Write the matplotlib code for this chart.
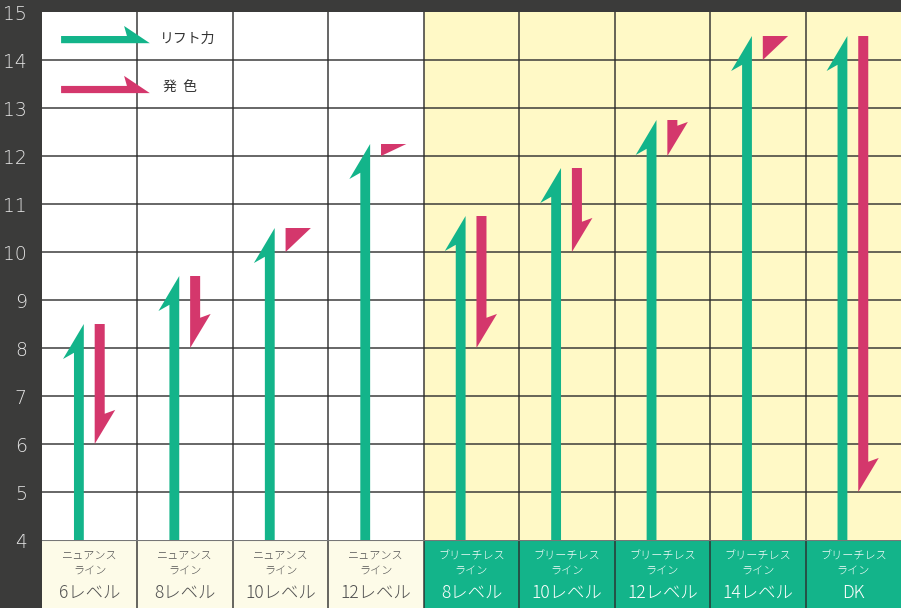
import matplotlib.pyplot as plt
from matplotlib.patches import Polygon, Rectangle

plt.rcParams['font.family'] = ['Noto Sans CJK JP', 'DejaVu Sans']

# data
series = ["ニュアンス"] * 4 + ["ブリーチレス"] * 5
line_word = ["ライン"] * 9
levels = ["6レベル", "8レベル", "10レベル", "12レベル",
          "8レベル", "10レベル", "12レベル", "14レベル", "DK"]
lift = [8.5, 9.5, 10.5, 12.25, 10.75, 11.75, 12.75, 14.5, 14.5]
color_end = [6, 8, 10, 12, 8, 10, 12, 14, 5]
bleach = [False] * 4 + [True] * 5
yticks = list(range(4, 16))
legend_labels = ["リフト力", "発  色"]

GREEN = '#13b48a'
PINK = '#d4376c'
YELLOW = '#fff9c6'
CREAM = '#fdfbe8'
BG = '#3b3b3a'
GRID = '#2c2c2c'


def up_arrow(ax, c, base, top):
    l, r = c - 0.165, c - 0.062
    pts = [(l, base), (r, base), (r, top), (l - 0.115, top - 0.73), (l, top - 0.6)]
    ax.add_patch(Polygon(pts, closed=True, fc=GREEN, ec='none', zorder=3))


def down_arrow(ax, c, top, tip):
    l, r = c + 0.052, c + 0.157
    if top - tip > 0.72:
        pts = [(l, top), (r, top), (r, tip + 0.63), (l + 0.215, tip + 0.71), (l, tip)]
    else:
        pts = [(l, top), (l + 0.265, top), (l, tip)]
    ax.add_patch(Polygon(pts, closed=True, fc=PINK, ec='none', zorder=3))


def side_arrow(ax, x0, tip, yb, color):
    pts = [(x0, yb), (tip, yb), (tip - 0.27, yb + 0.36),
           (tip - 0.24, yb + 0.15), (x0, yb + 0.15)]
    ax.add_patch(Polygon(pts, closed=True, fc=color, ec='none', zorder=3))


fig = plt.figure(figsize=(9.01, 6.08), dpi=100)
fig.patch.set_facecolor(BG)

ax = fig.add_axes([42 / 901, 68 / 608, 859 / 901, 528 / 608])
ax.set_xlim(0, 9)
ax.set_ylim(4, 15)
for i, b in enumerate(bleach):
    ax.axvspan(i, i + 1, color=YELLOW if b else 'white', zorder=0, lw=0)
for y in yticks[1:-1]:
    ax.axhline(y, color=GRID, lw=1.3, alpha=0.78, zorder=1)
for i in range(1, len(levels)):
    ax.axvline(i, color=GRID, lw=1.2, alpha=0.85, zorder=1)

for i in range(len(levels)):
    c = i + 0.5
    up_arrow(ax, c, 4, lift[i])
    down_arrow(ax, c, lift[i], color_end[i])

# legend
side_arrow(ax, 0.2, 1.13, 14.35, GREEN)
side_arrow(ax, 0.2, 1.13, 13.31, PINK)
ax.text(1.24, 14.45, legend_labels[0], fontsize=10, color='#333333', va='center', zorder=4)
ax.text(1.27, 13.43, legend_labels[1], fontsize=10, color='#333333', va='center', zorder=4)

ax.set_yticks(yticks)
ax.set_yticklabels([str(v) for v in yticks], color='#e6e6e6', fontsize=13.5,
                   fontfamily='DejaVu Sans', fontweight='light')
ax.tick_params(axis='y', length=0, pad=11)
ax.set_xticks([])
for s in ax.spines.values():
    s.set_visible(False)

# category label boxes
lax = fig.add_axes([42 / 901, 0, 859 / 901, 68 / 608])
lax.set_xlim(0, 9)
lax.set_ylim(0, 1)
lax.axis('off')
for i, b in enumerate(bleach):
    lax.add_patch(Rectangle((i, 0), 1, 1, fc=GREEN if b else CREAM, ec='none', zorder=0))
    tc = 'white' if b else '#505050'
    c = i + 0.5
    lax.text(c, 0.75, series[i], ha='center', va='center', fontsize=8, color=tc, fontweight='light')
    lax.text(c, 0.54, line_word[i], ha='center', va='center', fontsize=8, color=tc, fontweight='light')
    lax.text(c, 0.22, levels[i], ha='center', va='center', fontsize=12.5, color=tc, fontweight='light')
for i in range(1, len(levels)):
    lax.axvline(i, color=GRID, lw=1.2, alpha=0.85)
lax.axhline(1, color='#777777', lw=1.5)

fig.savefig('out.png', dpi=100, facecolor=fig.get_facecolor())
